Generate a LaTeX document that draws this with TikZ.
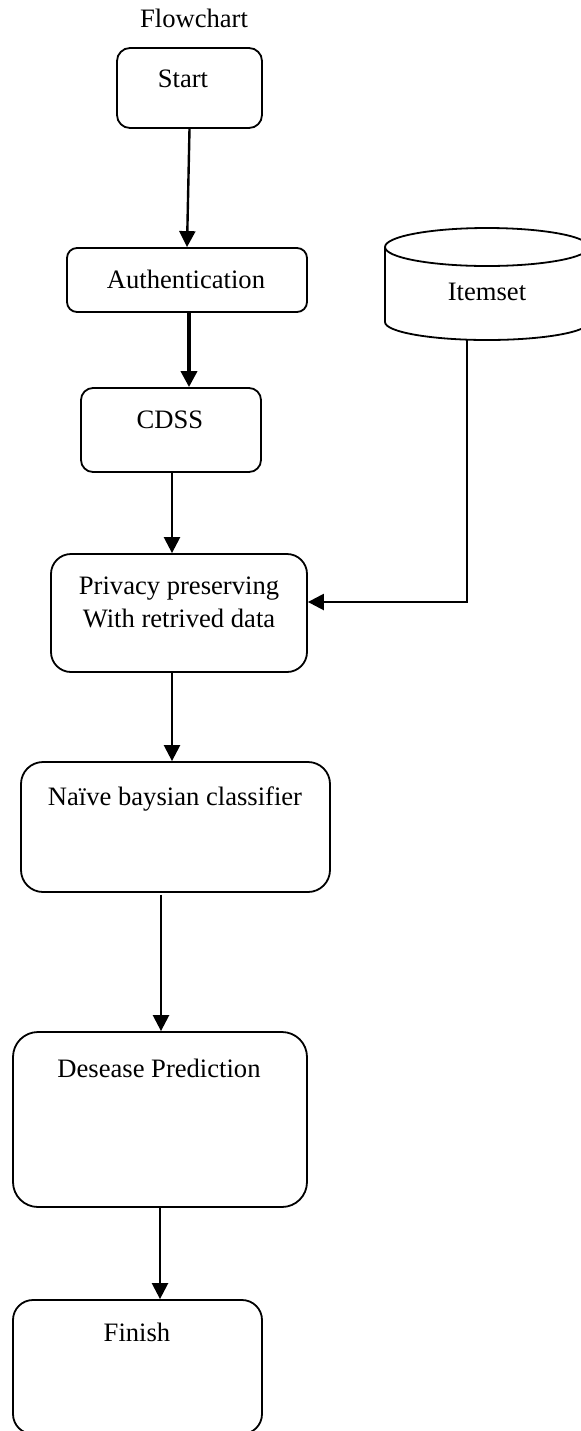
\documentclass[tikz,border=0pt]{standalone}
\usepackage{fontspec}
\setmainfont{Liberation Serif}
\usetikzlibrary{arrows.meta}
\begin{document}
\begin{tikzpicture}[x=0.5pt,y=-0.5pt,
  box/.style={draw, line width=0.9pt, inner sep=0pt},
  txt/.style={inner sep=0pt, anchor=base, font=\fontsize{13.3}{15.5}\selectfont},
  arr/.style={line width=1.2pt, -{Triangle[length=8pt,width=8pt]}},
  thickarr/.style={line width=1.8pt, -{Triangle[length=8pt,width=8pt]}}]
\useasboundingbox (0,0) rectangle (581,1431);
\fill[white] (0,0) rectangle (581,1431);

% title
\node[txt] (title) at (194,27) {Flowchart};

% boxes (empty, positioned by corners)
\node[box, rounded corners=6.5pt, minimum width=72.5pt, minimum height=40pt] (start) at (189.5,88) {};
\node[box, rounded corners=5pt, minimum width=120pt, minimum height=32pt] (auth) at (187,280) {};
\node[box, rounded corners=6pt, minimum width=90pt, minimum height=42pt] (cdss) at (171,430) {};
\node[box, rounded corners=10pt, minimum width=128pt, minimum height=59pt] (priv) at (179,613) {};
\node[box, rounded corners=11pt, minimum width=154.5pt, minimum height=65pt] (naive) at (175.5,827) {};
\node[box, rounded corners=12.5pt, minimum width=147pt, minimum height=87.5pt] (des) at (160,1119.5) {};
\node[box, rounded corners=10pt, minimum width=124.5pt, minimum height=67pt] (fin) at (137.5,1367) {};

% cylinder (database)
\node[inner sep=0pt, minimum width=102pt, minimum height=56.5pt] (itemset) at (487,283.5) {};
\draw[line width=0.9pt, fill=white] (385,247) -- (385,322) arc[start angle=180, end angle=360, x radius=51pt, y radius=9pt] -- (589,247);
\draw[line width=0.9pt] (487,247) ellipse[x radius=51pt, y radius=9.5pt];

% texts
\node[txt] (tstart) at (183,87) {Start};
\node[txt] (tauth) at (186,288) {Authentication};
\node[txt] (tcdss) at (170,428) {CDSS};
\node[txt] (titem) at (487,300) {Itemset};
\node[txt] (tpriv1) at (179,594) {Privacy preserving};
\node[txt] (tpriv2) at (179,627) {With retrived data};
\node[txt] (tnaive) at (175,805) {Naïve baysian classifier};
\node[txt] (tdes) at (159,1077) {Desease Prediction};
\node[txt] (tfin) at (137,1341) {Finish};

% connectors
\draw[arr] (start.south) -- (auth.north);
\draw[thickarr] ([xshift=1pt]auth.south) -- ([xshift=1pt]auth.south |- cdss.north);
\draw[arr] ([xshift=0.5pt]cdss.south) -- ([xshift=0.5pt]cdss.south |- priv.north);
\draw[arr] ([xshift=-3.5pt]priv.south) -- ([xshift=-3.5pt]priv.south |- naive.north);
\draw[arr] ([xshift=0.5pt]des.north |- naive.south) ++(0,2) -- ([xshift=0.5pt]des.north);
\draw[arr] (des.south) -- (des.south |- fin.north);
\draw[arr] ([xshift=-10pt]itemset.south) |- ([yshift=5.5pt]priv.east);
\end{tikzpicture}
\end{document}
